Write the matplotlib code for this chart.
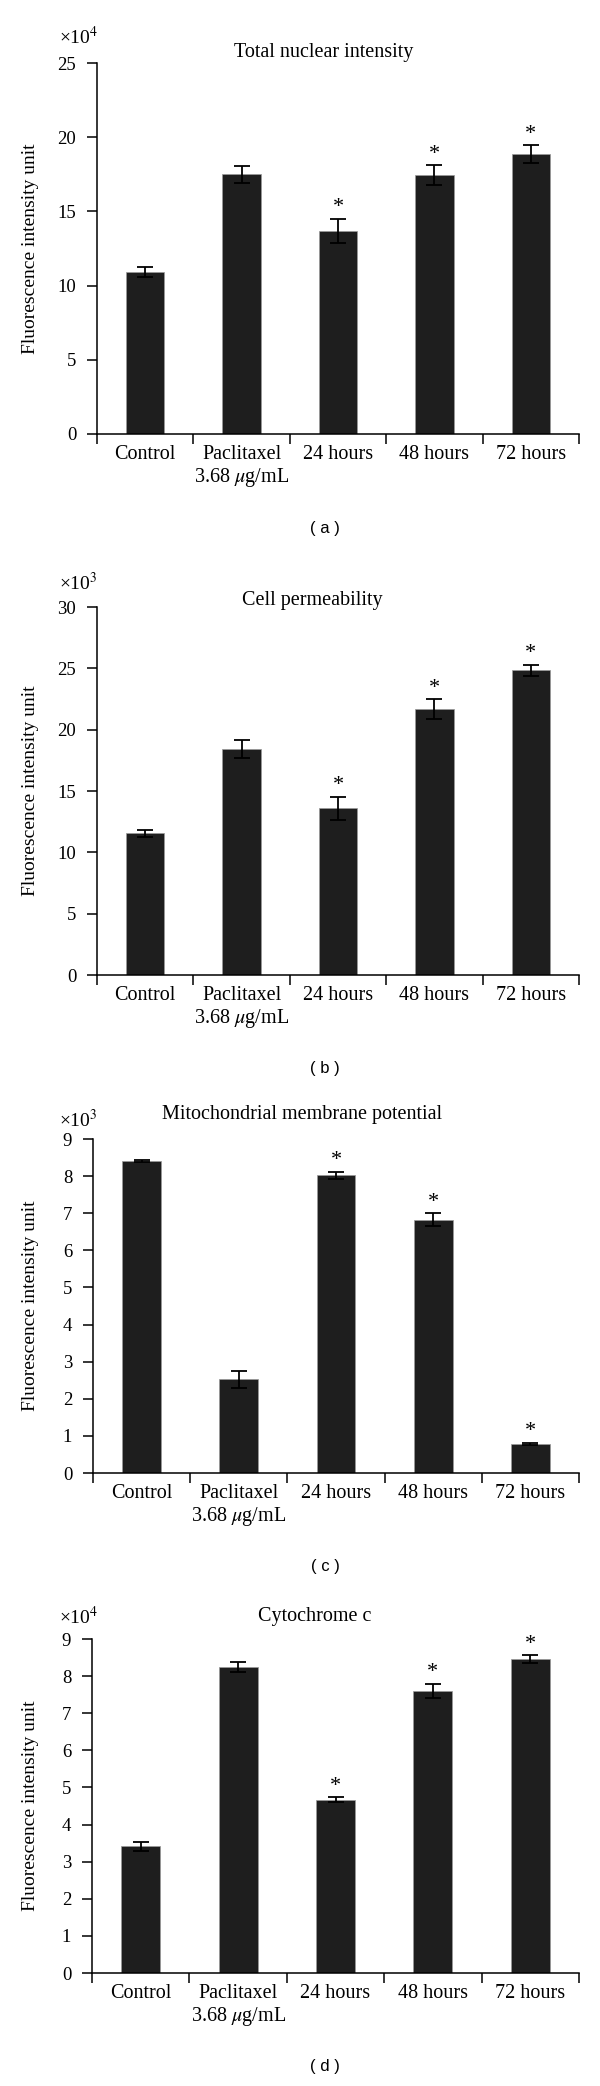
import matplotlib
matplotlib.use("Agg")
import matplotlib.pyplot as plt
import numpy as np

plt.rcParams["font.family"] = ["Liberation Serif", "DejaVu Serif"]
plt.rcParams["mathtext.fontset"] = "stix"

W, H = 600, 2086

categories = ["Control", "Paclitaxel\n3.68 $\\mu$g/mL", "24 hours", "48 hours", "72 hours"]

# (a) total nuclear intensity, x10^4
nuclear = [10.9, 17.5, 13.7, 17.45, 18.85]
nuclear_err = [0.35, 0.57, 0.8, 0.65, 0.6]
nuclear_sig = [False, False, True, True, True]

# (b) cell permeability, x10^3
perm = [11.55, 18.42, 13.6, 21.68, 24.85]
perm_err = [0.3, 0.75, 0.95, 0.8, 0.45]
perm_sig = [False, False, True, True, True]

# (c) mitochondrial membrane potential, x10^3
mmp = [8.40, 2.52, 8.02, 6.83, 0.79]
mmp_err = [0.03, 0.22, 0.1, 0.17, 0.03]
mmp_sig = [False, False, True, True, True]

# (d) cytochrome c, x10^4
cyto = [3.41, 8.24, 4.67, 7.60, 8.46]
cyto_err = [0.13, 0.14, 0.07, 0.2, 0.11]
cyto_sig = [False, False, True, True, True]

panels = [
    # values, err, sig, title, scale, ymax, ystep, left, right, ytop, ybot, title_x, title_y, mult_y, panel_y, tag
    (nuclear, nuclear_err, nuclear_sig, "Total nuclear intensity", "4", 25, 5, 97, 579, 63, 434, 324, 52, 37, 528, "( a )"),
    (perm, perm_err, perm_sig, "Cell permeability", "3", 30, 5, 97, 579, 607, 975, 312, 600, 583, 1068, "( b )"),
    (mmp, mmp_err, mmp_sig, "Mitochondrial membrane potential", "3", 9, 1, 93, 579, 1139, 1473, 302, 1115, 1120, 1567, "( c )"),
    (cyto, cyto_err, cyto_sig, "Cytochrome c", "4", 9, 1, 92, 579, 1639, 1973, 315, 1617, 1617, 2067, "( d )"),
]


def fx(x):
    return x / W


def fy(y):
    return 1 - y / H


fig = plt.figure(figsize=(W / 100, H / 100), dpi=100)

for vals, err, sig, title, scale, ymax, ystep, left, right, ytop, ybot, tx, ty, my, py, tag in panels:
    ax = fig.add_axes([fx(left), fy(ybot), (right - left) / W, (ybot - ytop) / H])
    x = np.arange(len(vals))
    ax.bar(x, vals, width=0.4, color="#1e1e1e", edgecolor="#9a9a9a", linewidth=0.5, zorder=2)
    ax.errorbar(x, vals, yerr=err, fmt="none", ecolor="black", elinewidth=1.3,
                capsize=5.5, capthick=1.3, zorder=3)
    for xi, v, e, s in zip(x, vals, err, sig):
        if s:
            ax.annotate("*", (xi, v + e), xytext=(0, 1), textcoords="offset points",
                        ha="center", va="bottom", fontsize=16)

    ax.set_xlim(-0.5, len(vals) - 0.5)
    ax.set_ylim(0, ymax)
    ax.set_yticks(np.arange(0, ymax + 0.01, ystep))
    ax.set_xticks(np.arange(-0.5, len(vals), 1.0))
    ax.set_xticklabels([])
    ax.set_xticks(x, minor=True)
    ax.set_xticklabels(categories, minor=True, fontsize=14.5, linespacing=1.1)
    ax.tick_params(axis="x", which="major", direction="out", length=7, width=1.1)
    ax.tick_params(axis="x", which="minor", length=0, pad=8)
    ax.tick_params(axis="y", direction="out", length=7, width=1.1, pad=8, labelsize=13.5)
    for sp in ["top", "right"]:
        ax.spines[sp].set_visible(False)
    for sp in ["left", "bottom"]:
        ax.spines[sp].set_linewidth(1.1)

    fig.text(fx(tx), fy(ty), title, ha="center", va="center", fontsize=14.5)
    fig.text(fx(59), fy(my), "×10$^{" + scale + "}$", ha="left", va="center", fontsize=14)
    fig.text(fx(31), fy((ytop + ybot) / 2), "Fluorescence intensity unit", rotation=90,
             ha="center", va="center", fontsize=14)
    fig.text(fx(325), fy(py), tag, ha="center", va="center", fontsize=12,
             family=["Liberation Sans", "DejaVu Sans"])

fig.savefig("out.png", dpi=100)
